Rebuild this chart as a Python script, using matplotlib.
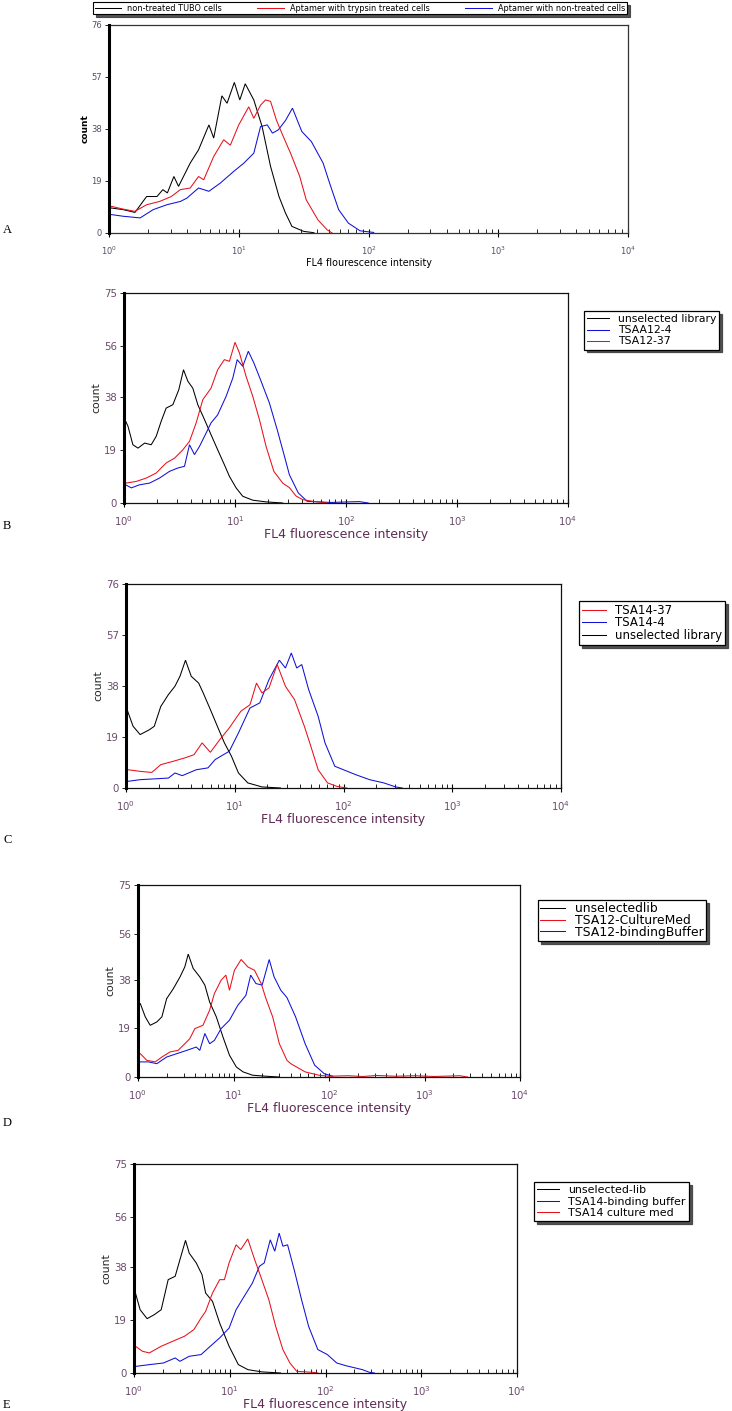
import numpy as np
import matplotlib
matplotlib.use("Agg")
import matplotlib.pyplot as plt
from matplotlib.ticker import LogLocator, NullFormatter

plt.rcParams['font.family'] = ['DejaVu Sans']
plt.rcParams['mathtext.fontset'] = 'dejavusans'

W, H = 732, 1411

BLACK = '#000000'
RED = '#e8101a'
BLUE = '#1010d8'

# ---------------- DATA (log10 of FL4 intensity, count) ----------------
# Panel A
A_labels = ['non-treated TUBO cells', 'Aptamer with trypsin treated cells', 'Aptamer with non-treated cells']
A_yticks = [0, 19, 38, 57, 76]
A_spike = [76, 68, 62]
A_black_logx = [0.02, 0.11, 0.2, 0.29, 0.37, 0.415, 0.45, 0.5, 0.536, 0.626, 0.69, 0.77, 0.807, 0.87, 0.91, 0.966, 1.008, 1.05, 1.116, 1.18, 1.245, 1.31, 1.36, 1.41, 1.5, 1.58]
A_black_count = [9.1, 8.5, 7.5, 13.3, 13.3, 15.8, 14.6, 20.6, 17, 25.5, 30.3, 39.4, 34.6, 50, 47.3, 54.9, 48.5, 54.4, 48.5, 38.8, 24.3, 13.3, 7.3, 2.4, 0.6, 0.1]
A_red_logx = [0.02, 0.11, 0.2, 0.29, 0.39, 0.48, 0.55, 0.626, 0.69, 0.73, 0.807, 0.884, 0.935, 1.0, 1.077, 1.116, 1.168, 1.206, 1.245, 1.29, 1.34, 1.40, 1.47, 1.52, 1.61, 1.68, 1.72]
A_red_count = [9.7, 8.7, 7.9, 10.3, 11.5, 13.3, 15.8, 16.4, 20.6, 19.4, 27.9, 34, 32, 39.4, 46, 41.8, 46.6, 48.5, 48, 41.2, 35.5, 29, 20.6, 12.1, 4.8, 1.2, 0.0]
A_blue_logx = [0.02, 0.11, 0.24, 0.34, 0.446, 0.55, 0.6, 0.69, 0.77, 0.858, 0.96, 1.04, 1.116, 1.168, 1.22, 1.26, 1.305, 1.36, 1.414, 1.486, 1.56, 1.65, 1.70, 1.77, 1.845, 1.935, 2.04]
A_blue_count = [6.7, 6.1, 5.5, 8.5, 10.3, 11.5, 12.7, 16.4, 15.2, 18.2, 22.4, 25.5, 29.1, 38.8, 39.4, 36.4, 37.6, 41, 45.5, 37, 33.3, 25.5, 18.2, 8.5, 3.6, 0.8, 0.2]

# Panel B
B_labels = ['unselected library', 'TSAA12-4', 'TSA12-37']
B_yticks = [0, 19, 38, 56, 75]
B_spike = [75, 63, 50]
B_black_logx = [0.015, 0.036, 0.08, 0.126, 0.186, 0.245, 0.29, 0.335, 0.38, 0.44, 0.494, 0.536, 0.575, 0.62, 0.665, 0.725, 0.784, 0.844, 0.904, 0.95, 1.01, 1.07, 1.16, 1.28, 1.43]
B_black_count = [29.2, 27.4, 20.8, 19.6, 21.4, 20.8, 23.8, 29.2, 33.9, 35.1, 40.5, 47.6, 43.5, 41, 35.1, 29.8, 24.4, 19, 13.7, 9.5, 5.4, 2.4, 1, 0.4, 0]
B_blue_logx = [0.015, 0.066, 0.14, 0.23, 0.32, 0.41, 0.485, 0.545, 0.59, 0.635, 0.68, 0.74, 0.784, 0.844, 0.92, 0.98, 1.02, 1.07, 1.12, 1.17, 1.23, 1.31, 1.38, 1.44, 1.49, 1.57, 1.65, 1.86, 2.12, 2.2]
B_blue_count = [6.5, 5.4, 6.5, 7.1, 8.9, 11.3, 12.5, 13.1, 20.8, 17.3, 20.2, 25, 28.6, 31.5, 38.1, 44.6, 51.2, 48.8, 54.2, 50, 44, 35.7, 26.2, 17.5, 10.1, 3.6, 0.6, 0.2, 0.5, 0]
B_red_logx = [0.015, 0.11, 0.2, 0.29, 0.38, 0.455, 0.53, 0.59, 0.65, 0.71, 0.784, 0.844, 0.904, 0.95, 1.0, 1.04, 1.1, 1.16, 1.22, 1.28, 1.35, 1.43, 1.49, 1.55, 1.61, 1.70, 1.82]
B_red_count = [7.1, 7.7, 8.9, 10.7, 14.3, 16, 19, 22, 28.6, 36.9, 41, 47.6, 51.2, 50.6, 57.4, 53.6, 45.2, 38.1, 29.8, 20.2, 11.3, 7.1, 5.5, 2.5, 1.2, 0.6, 0.1]

# Panel C
C_labels = ['TSA14-37', 'TSA14-4', 'unselected library']
C_yticks = [0, 19, 38, 57, 76]
C_spike = [66, 33, 76]
C_red_logx = [0.02, 0.13, 0.237, 0.32, 0.43, 0.54, 0.625, 0.70, 0.776, 0.862, 0.95, 1.056, 1.14, 1.2, 1.25, 1.315, 1.39, 1.466, 1.55, 1.64, 1.70, 1.767, 1.853, 1.94, 2.03]
C_red_count = [6.8, 6.2, 5.8, 8.7, 9.9, 11.2, 12.4, 16.8, 13.3, 18, 22.4, 28.6, 31, 39.1, 35.4, 37.3, 46, 37.9, 32.9, 23, 15.5, 6.8, 1.9, 0.6, 0]
C_blue_logx = [0.02, 0.13, 0.26, 0.39, 0.45, 0.517, 0.646, 0.754, 0.82, 0.95, 1.034, 1.14, 1.23, 1.315, 1.41, 1.466, 1.52, 1.57, 1.616, 1.68, 1.767, 1.83, 1.92, 2.0, 2.11, 2.24, 2.37, 2.48, 2.54]
C_blue_count = [2.5, 3.1, 3.4, 3.7, 5.6, 4.6, 6.8, 7.5, 10.6, 13.7, 20.5, 29.8, 31.7, 40.4, 47.6, 44.7, 50.3, 44.7, 46, 36.6, 26.7, 16.8, 8.1, 6.8, 5, 3.1, 1.9, 0.4, 0]
C_black_logx = [0.01, 0.065, 0.13, 0.215, 0.26, 0.32, 0.39, 0.45, 0.496, 0.547, 0.60, 0.668, 0.71, 0.776, 0.84, 0.905, 0.97, 1.034, 1.12, 1.25, 1.42]
C_black_count = [29.2, 23, 19.9, 21.7, 23, 30.4, 34.8, 37.9, 41.6, 47.6, 41.6, 39.1, 35.4, 29.2, 23, 16.8, 11.8, 5.6, 1.9, 0.4, 0]

# Panel D
D_labels = ['unselectedlib', 'TSA12-CultureMed', 'TSA12-bindingBuffer']
D_yticks = [0, 19, 38, 56, 75]
D_spike = [75, 75, 65]
D_black_logx = [0.024, 0.076, 0.128, 0.197, 0.25, 0.30, 0.37, 0.44, 0.49, 0.526, 0.578, 0.647, 0.70, 0.75, 0.82, 0.89, 0.958, 1.03, 1.1, 1.2, 1.34, 1.48]
D_black_count = [28.7, 23.5, 20.2, 21.5, 23.5, 30.6, 34.5, 39.1, 43, 48, 42.4, 39.1, 35.9, 29.3, 23.5, 15.6, 8.5, 3.9, 2, 0.7, 0.3, 0]
D_red_logx = [0.024, 0.093, 0.18, 0.25, 0.336, 0.42, 0.49, 0.543, 0.595, 0.68, 0.75, 0.80, 0.87, 0.92, 0.958, 1.01, 1.08, 1.15, 1.22, 1.29, 1.34, 1.41, 1.48, 1.56, 1.6, 1.75, 1.9, 2.0, 2.2, 2.35, 2.5, 2.7, 2.9, 3.1, 3.37, 3.45]
D_red_count = [9.1, 6.5, 5.9, 7.8, 9.8, 10.4, 13, 15, 18.9, 20.2, 26.1, 32.6, 37.8, 39.8, 33.9, 41.7, 45.9, 43, 41.7, 36.5, 30.6, 23.5, 13, 6.5, 5.2, 2, 0.65, 0.3, 0.5, 0.2, 0.6, 0.3, 0.5, 0.2, 0.5, 0]
D_blue_logx = [0.024, 0.11, 0.197, 0.30, 0.405, 0.51, 0.61, 0.647, 0.70, 0.75, 0.80, 0.87, 0.958, 1.045, 1.13, 1.18, 1.235, 1.30, 1.374, 1.425, 1.495, 1.56, 1.65, 1.75, 1.85, 1.95, 2.04]
D_blue_count = [5.9, 5.9, 5.2, 7.8, 9.1, 10.4, 11.7, 10.4, 17, 13, 14.3, 18.9, 22.2, 28, 31.9, 39.8, 36.5, 35.9, 45.9, 39.1, 33.9, 31, 23.5, 13, 4.6, 1.3, 0.3]

# Panel E
E_labels = ['unselected-lib', 'TSA14-binding buffer', 'TSA14 culture med']
E_yticks = [0, 19, 38, 56, 75]
E_spike = [75, 34, 71]
E_black_logx = [0.015, 0.064, 0.137, 0.21, 0.284, 0.357, 0.43, 0.48, 0.538, 0.577, 0.65, 0.71, 0.748, 0.82, 0.895, 0.993, 1.09, 1.19, 1.335, 1.53]
E_black_count = [28.7, 22.7, 19.5, 20.9, 22.7, 33.5, 34.7, 40.7, 47.6, 43, 39.5, 35.3, 28.7, 25.7, 17.9, 9.6, 3, 1.2, 0.4, 0]
E_blue_logx = [0.024, 0.16, 0.308, 0.43, 0.48, 0.577, 0.70, 0.797, 0.895, 0.993, 1.066, 1.14, 1.237, 1.31, 1.36, 1.423, 1.47, 1.516, 1.555, 1.604, 1.677, 1.75, 1.824, 1.92, 2.02, 2.117, 2.215, 2.313, 2.386, 2.46, 2.51]
E_blue_count = [2.4, 3, 3.6, 5.4, 4.2, 6, 6.6, 9.6, 12.6, 16.1, 22.7, 26.9, 32.3, 38.3, 39.5, 47.8, 43.7, 50.2, 45.5, 46, 36.5, 26.3, 16.7, 8.4, 6.6, 3.6, 2.6, 1.8, 1.2, 0.24, 0]
E_red_logx = [0.015, 0.088, 0.16, 0.284, 0.405, 0.528, 0.626, 0.70, 0.748, 0.82, 0.895, 0.944, 0.993, 1.066, 1.115, 1.188, 1.26, 1.335, 1.408, 1.48, 1.555, 1.628, 1.70, 1.87, 1.92]
E_red_count = [9.6, 7.8, 7.2, 9.6, 11.4, 13.2, 15.6, 19.7, 22.1, 28.7, 33.5, 33.5, 39.5, 46, 44.3, 48.1, 40.7, 33.5, 26.3, 16.7, 8.4, 3.6, 0.6, 0.24, 0]

# ---------------- FIGURE ----------------
fig = plt.figure(figsize=(W / 100, H / 100), dpi=100)
fig.patch.set_facecolor('white')


def add_ax(l, r, t, b):
    return fig.add_axes([l / W, 1 - b / H, (r - l) / W, (b - t) / H])


def style_panel(ax, yticks, small):
    ax.set_xscale('log')
    ax.set_xlim(1, 1e4)
    ax.set_ylim(0, yticks[-1])
    ax.set_yticks(yticks)
    ax.set_yticklabels([str(v) for v in yticks])
    ax.xaxis.set_major_locator(LogLocator(base=10, numticks=10))
    ax.xaxis.set_minor_locator(LogLocator(base=10, subs=np.arange(2, 10), numticks=50))
    ax.xaxis.set_minor_formatter(NullFormatter())
    tcol = '#505068' if small else '#6a4a6a'
    fs = 6.0 if small else 7.3
    ax.tick_params(axis='x', which='major', direction='inout', length=6, width=0.8,
                   labelsize=fs, labelcolor=tcol, pad=5)
    ax.tick_params(axis='x', which='minor', direction='in', length=3, width=0.6)
    ax.tick_params(axis='y', which='major', direction='out', length=3, width=0.6,
                   labelsize=fs, labelcolor=tcol, pad=2)
    for s in ['top', 'right', 'bottom']:
        ax.spines[s].set_linewidth(0.9)
        ax.spines[s].set_color('#333333' if small else '#111111')
    ax.spines['left'].set_linewidth(2.2)
    ax.spines['left'].set_color('black')
    ax.spines['left'].set_zorder(5)


def draw_series(ax, logx, count, spike, color):
    xs = [1.0, 1.0] + [10 ** v for v in logx]
    ys = [spike, count[0]] + list(count)
    return ax.plot(xs, ys, color=color, lw=0.75, solid_joinstyle='miter')[0]


LEG = dict(frameon=True, fancybox=False, shadow={'color': '0.25', 'alpha': 0.9},
           edgecolor='black', framealpha=1, borderaxespad=0)

# ---- Panel A ----
axA = add_ax(109, 628, 24.5, 233)
style_panel(axA, A_yticks, True)
hA = [draw_series(axA, A_black_logx, A_black_count, A_spike[0], BLACK),
      draw_series(axA, A_blue_logx, A_blue_count, A_spike[2], BLUE),
      draw_series(axA, A_red_logx, A_red_count, A_spike[1], RED)]
axA.set_ylabel('count', fontsize=6.5, fontweight='bold', labelpad=1)
axA.set_xlabel('FL4 flourescence intensity', fontsize=6.9, labelpad=1)
legA = fig.legend([hA[0], hA[2], hA[1]], A_labels, ncol=3, mode='expand',
                  loc='upper left', bbox_to_anchor=(93 / W, 1 - 15 / H, 534 / W, 13 / H),
                  fontsize=5.9, handlelength=3.2, handletextpad=0.8, borderpad=0.2,
                  columnspacing=1.0, **LEG)
legA.get_frame().set_linewidth(0.8)
fig.text(3 / W, 1 - 230 / H, 'A', fontsize=9, family='Liberation Serif', va='center', ha='left')


def legend_at(ax, handles, labels, x0, y0, fs, ls=0.1, bp=0.3):
    lg = ax.legend(handles, labels, loc='upper left',
                   bbox_to_anchor=(x0 / W, 1 - y0 / H), bbox_transform=fig.transFigure,
                   fontsize=fs, handlelength=2.0, handletextpad=0.8, borderpad=bp,
                   labelspacing=ls, **LEG)
    lg.get_frame().set_linewidth(0.9)
    return lg


def big_labels(ax, letter, ly):
    ax.set_ylabel('count', fontsize=7.8, color='#222222', labelpad=2)
    ax.set_xlabel('FL4 fluorescence intensity', fontsize=9, color='#5e2a55', labelpad=0)
    fig.text(3 / W, 1 - ly / H, letter, fontsize=9, family='Liberation Serif', va='center', ha='left')


# ---- Panel B ----
axB = add_ax(124, 568, 293, 503)
style_panel(axB, B_yticks, False)
hB0 = draw_series(axB, B_black_logx, B_black_count, B_spike[0], BLACK)
hB1 = draw_series(axB, B_blue_logx, B_blue_count, B_spike[1], BLUE)
hB2 = draw_series(axB, B_red_logx, B_red_count, B_spike[2], RED)
legend_at(axB, [hB0, hB1, hB2], B_labels, 584, 311, 7.8)
big_labels(axB, 'B', 526)

# ---- Panel C ----
axC = add_ax(126, 561, 584, 788)
style_panel(axC, C_yticks, False)
hC2 = draw_series(axC, C_black_logx, C_black_count, C_spike[2], BLACK)
hC1 = draw_series(axC, C_blue_logx, C_blue_count, C_spike[1], BLUE)
hC0 = draw_series(axC, C_red_logx, C_red_count, C_spike[0], RED)
legend_at(axC, [hC0, hC1, hC2], C_labels, 579, 601, 8.5, ls=-0.05, bp=0.25)
big_labels(axC, 'C', 840)

# ---- Panel D ----
axD = add_ax(138, 520, 885, 1077)
style_panel(axD, D_yticks, False)
hD0 = draw_series(axD, D_black_logx, D_black_count, D_spike[0], BLACK)
hD2 = draw_series(axD, D_blue_logx, D_blue_count, D_spike[2], BLUE)
hD1 = draw_series(axD, D_red_logx, D_red_count, D_spike[1], RED)
legend_at(axD, [hD0, hD1, hD2], D_labels, 538, 900, 8.9, ls=-0.12, bp=0.2)
big_labels(axD, 'D', 1123)

# ---- Panel E ----
axE = add_ax(134, 517, 1164, 1373)
style_panel(axE, E_yticks, False)
hE0 = draw_series(axE, E_black_logx, E_black_count, E_spike[0], BLACK)
hE1 = draw_series(axE, E_blue_logx, E_blue_count, E_spike[1], BLUE)
hE2 = draw_series(axE, E_red_logx, E_red_count, E_spike[2], RED)
legend_at(axE, [hE0, hE1, hE2], E_labels, 534, 1182, 7.9, ls=0.12)
big_labels(axE, 'E', 1405)

fig.savefig('out.png', dpi=100, facecolor='white')
